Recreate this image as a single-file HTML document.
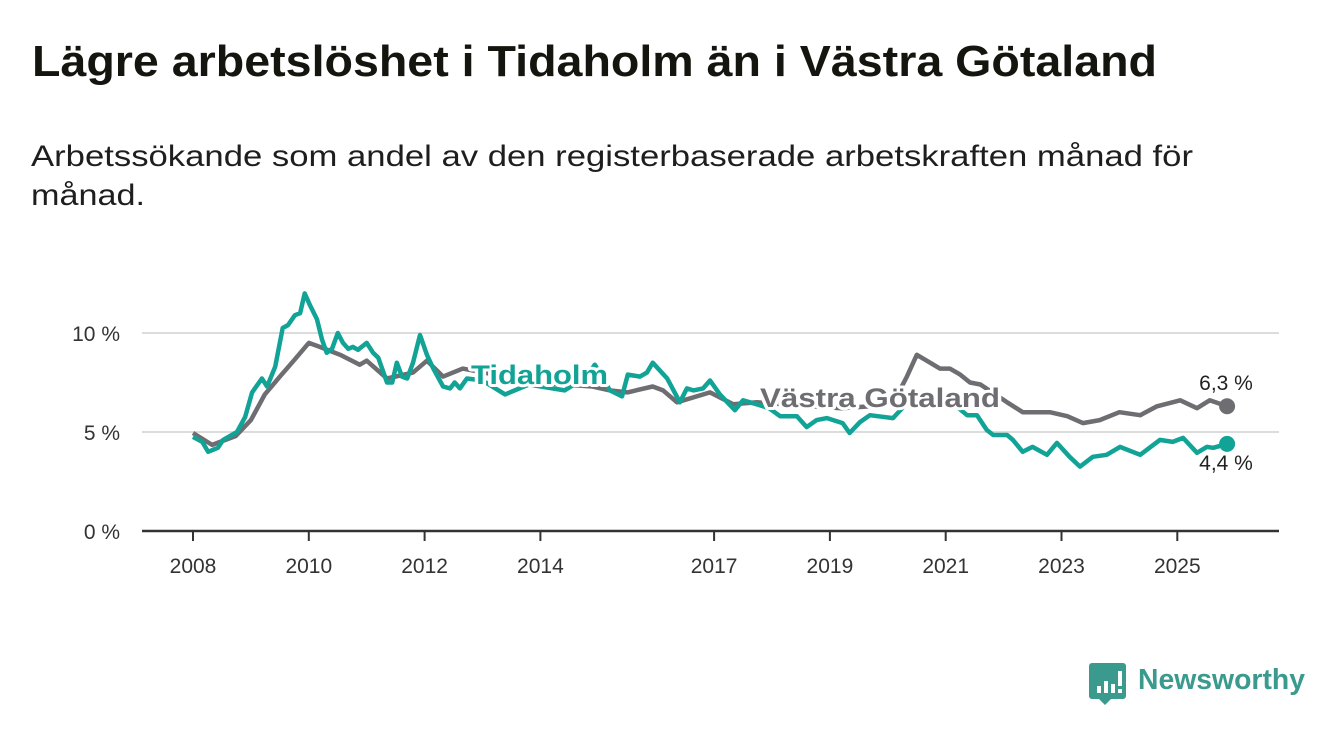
<!DOCTYPE html>
<html><head><meta charset="utf-8"><style>
html,body{margin:0;padding:0;background:#fff;}
svg{display:block;font-family:"Liberation Sans",sans-serif;}
.halo{paint-order:stroke;stroke:#fff;stroke-width:6px;stroke-linejoin:round;}
</style></head><body>
<svg id="chart" width="1340" height="734" viewBox="0 0 1340 734">
<text x="32" y="76" font-size="44" font-weight="bold" fill="#15150f" textLength="1125" lengthAdjust="spacingAndGlyphs">Lägre arbetslöshet i Tidaholm än i Västra Götaland</text>
<text x="31" y="166" font-size="30" fill="#1e1e1e" textLength="1162" lengthAdjust="spacingAndGlyphs">Arbetssökande som andel av den registerbaserade arbetskraften månad för</text>
<text x="31" y="205" font-size="30" fill="#1e1e1e" textLength="114" lengthAdjust="spacingAndGlyphs">månad.</text>
<g id="grid"></g><g id="axes"></g><g id="lines"></g><g id="labels"></g>
<g>
<path d="M1092 663 h31 a3 3 0 0 1 3 3 v30 a3 3 0 0 1 -3 3 h-12 l-6 6 l-6 -6 h-7 a3 3 0 0 1 -3 -3 v-30 a3 3 0 0 1 3 -3z" fill="#3a9a8e"/>
<rect x="1097" y="686" width="4" height="7" fill="#fff"/><rect x="1104" y="681" width="4" height="12" fill="#fff"/><rect x="1111" y="684" width="4" height="9" fill="#fff"/><rect x="1118" y="671" width="4" height="15" fill="#fff"/><rect x="1118" y="689" width="4" height="4" fill="#fff"/>
<text x="1138" y="689" font-size="29" font-weight="bold" fill="#3a9a8e" textLength="167" lengthAdjust="spacingAndGlyphs">Newsworthy</text>
</g>
</svg>
<script>
const yTicks=[0,5,10];
const yTickLabels=["0 %","5 %","10 %"];
const xTicks=[2008,2010,2012,2014,2017,2019,2021,2023,2025];
const vgDates=[2008.0,2008.33,2008.74,2009.0,2009.24,2009.5,2009.74,2010.0,2010.19,2010.54,2010.88,2011.0,2011.35,2011.8,2012.04,2012.32,2012.66,2013.2,2013.8,2014.4,2014.9,2015.2,2015.5,2015.94,2016.12,2016.36,2016.93,2017.33,2017.74,2018.2,2018.7,2019.2,2019.7,2020.1,2020.33,2020.5,2020.73,2020.9,2021.07,2021.25,2021.42,2021.6,2022.06,2022.33,2022.8,2023.1,2023.37,2023.66,2024.0,2024.36,2024.65,2025.05,2025.34,2025.56,2025.86];
const vgValues=[4.95,4.35,4.8,5.6,6.9,7.8,8.6,9.5,9.3,8.9,8.4,8.6,7.7,8.0,8.6,7.8,8.2,7.9,7.5,7.4,7.3,7.1,7.0,7.3,7.1,6.5,7.0,6.4,6.5,6.4,6.3,6.2,6.3,6.5,7.8,8.9,8.5,8.2,8.2,7.9,7.5,7.4,6.5,6.0,6.0,5.8,5.45,5.6,6.0,5.85,6.3,6.6,6.2,6.6,6.3];
const tiDates=[2008.0,2008.16,2008.26,2008.43,2008.52,2008.76,2008.9,2009.02,2009.19,2009.28,2009.42,2009.55,2009.64,2009.76,2009.85,2009.93,2010.02,2010.14,2010.23,2010.31,2010.4,2010.5,2010.59,2010.68,2010.76,2010.85,2011.0,2011.11,2011.2,2011.35,2011.44,2011.52,2011.61,2011.7,2011.8,2011.92,2012.04,2012.15,2012.32,2012.44,2012.52,2012.61,2012.73,2013.0,2013.39,2013.8,2014.42,2014.8,2014.94,2015.2,2015.41,2015.51,2015.72,2015.84,2015.94,2016.19,2016.41,2016.53,2016.64,2016.81,2016.93,2017.1,2017.36,2017.5,2017.74,2017.95,2018.14,2018.43,2018.6,2018.77,2018.95,2019.22,2019.34,2019.52,2019.69,2020.09,2020.5,2020.8,2021.1,2021.37,2021.54,2021.71,2021.82,2022.06,2022.16,2022.33,2022.5,2022.75,2022.92,2023.14,2023.32,2023.54,2023.78,2024.01,2024.36,2024.7,2024.92,2025.1,2025.34,2025.51,2025.62,2025.86];
const tiValues=[4.75,4.5,4.0,4.2,4.6,5.0,5.75,7.0,7.7,7.3,8.3,10.25,10.4,10.9,11.0,12.0,11.4,10.7,9.65,9.0,9.2,10.0,9.5,9.2,9.3,9.15,9.5,9.0,8.75,7.5,7.5,8.5,7.8,7.7,8.5,9.9,8.9,8.2,7.3,7.2,7.5,7.2,7.7,7.6,6.9,7.4,7.1,7.8,8.4,7.1,6.8,7.9,7.8,8.0,8.5,7.7,6.5,7.2,7.1,7.2,7.6,6.9,6.1,6.6,6.4,6.2,5.8,5.8,5.25,5.6,5.7,5.45,4.95,5.5,5.85,5.7,7.0,6.8,6.5,5.85,5.85,5.1,4.85,4.85,4.6,4.0,4.25,3.85,4.45,3.75,3.25,3.75,3.85,4.25,3.85,4.6,4.5,4.7,3.95,4.25,4.2,4.4];
const vgLast=6.3, tiLast=4.4;

const NS="http://www.w3.org/2000/svg";
const X=d=>193+(d-2008)*57.9;
const Y=v=>531-v*19.8;
function mk(tag,attrs,parent,txt){const e=document.createElementNS(NS,tag);for(const k in attrs)e.setAttribute(k,attrs[k]);if(txt!==undefined)e.textContent=txt;parent.appendChild(e);return e;}
const grid=document.getElementById('grid'),axes=document.getElementById('axes'),lines=document.getElementById('lines'),labels=document.getElementById('labels');
yTicks.forEach((t,i)=>{
  if(t>0){const g=mk('line',{x1:142,x2:1279,y1:Y(t),y2:Y(t),stroke:'#dcdcdc','stroke-width':2},grid);
  
  }
  const l=mk('text',{x:120,y:Y(t)+8,'font-size':21,fill:'#333','text-anchor':'end'},axes,yTickLabels[i]);
  
  
});
const ax=mk('line',{x1:142,x2:1279,y1:531,y2:531,stroke:'#333','stroke-width':2.5},axes);


xTicks.forEach(t=>{
  const tk=mk('line',{x1:X(t),x2:X(t),y1:531,y2:541,stroke:'#333','stroke-width':2},axes);
  
  
  const l=mk('text',{x:X(t),y:573,'font-size':21,fill:'#333','text-anchor':'middle'},axes,String(t));
  
  
});
function pts(ds,vs){return ds.map((d,i)=>X(d).toFixed(1)+','+Y(vs[i]).toFixed(1)).join(' ');}
const vg=mk('polyline',{points:pts(vgDates,vgValues),fill:'none',stroke:'#6e6d72','stroke-width':4.5,'stroke-linejoin':'round'},lines);


const ti=mk('polyline',{points:pts(tiDates,tiValues),fill:'none',stroke:'#11a396','stroke-width':4.5,'stroke-linejoin':'round'},lines);


const ld=vgDates[vgDates.length-1], lt=tiDates[tiDates.length-1];
const d1=mk('circle',{cx:X(ld),cy:Y(vgLast),r:8,fill:'#6e6d72'},lines);


const d2=mk('circle',{cx:X(lt),cy:Y(tiLast),r:8,fill:'#11a396'},lines);


const l1=mk('text',{x:471,y:384,'font-size':27,'font-weight':'bold',fill:'#11a396',class:'halo',textLength:137,lengthAdjust:'spacingAndGlyphs'},labels,'Tidaholm');


const l2=mk('text',{x:760,y:407,'font-size':27,'font-weight':'bold',fill:'#6e6d72',class:'halo',textLength:240,lengthAdjust:'spacingAndGlyphs'},labels,'Västra Götaland');


const v1=mk('text',{x:1226,y:390,'font-size':21,fill:'#222','text-anchor':'middle',class:'halo'},labels,'6,3 %');


const v2=mk('text',{x:1226,y:470,'font-size':21,fill:'#222','text-anchor':'middle',class:'halo'},labels,'4,4 %');


</script>
</body></html>
